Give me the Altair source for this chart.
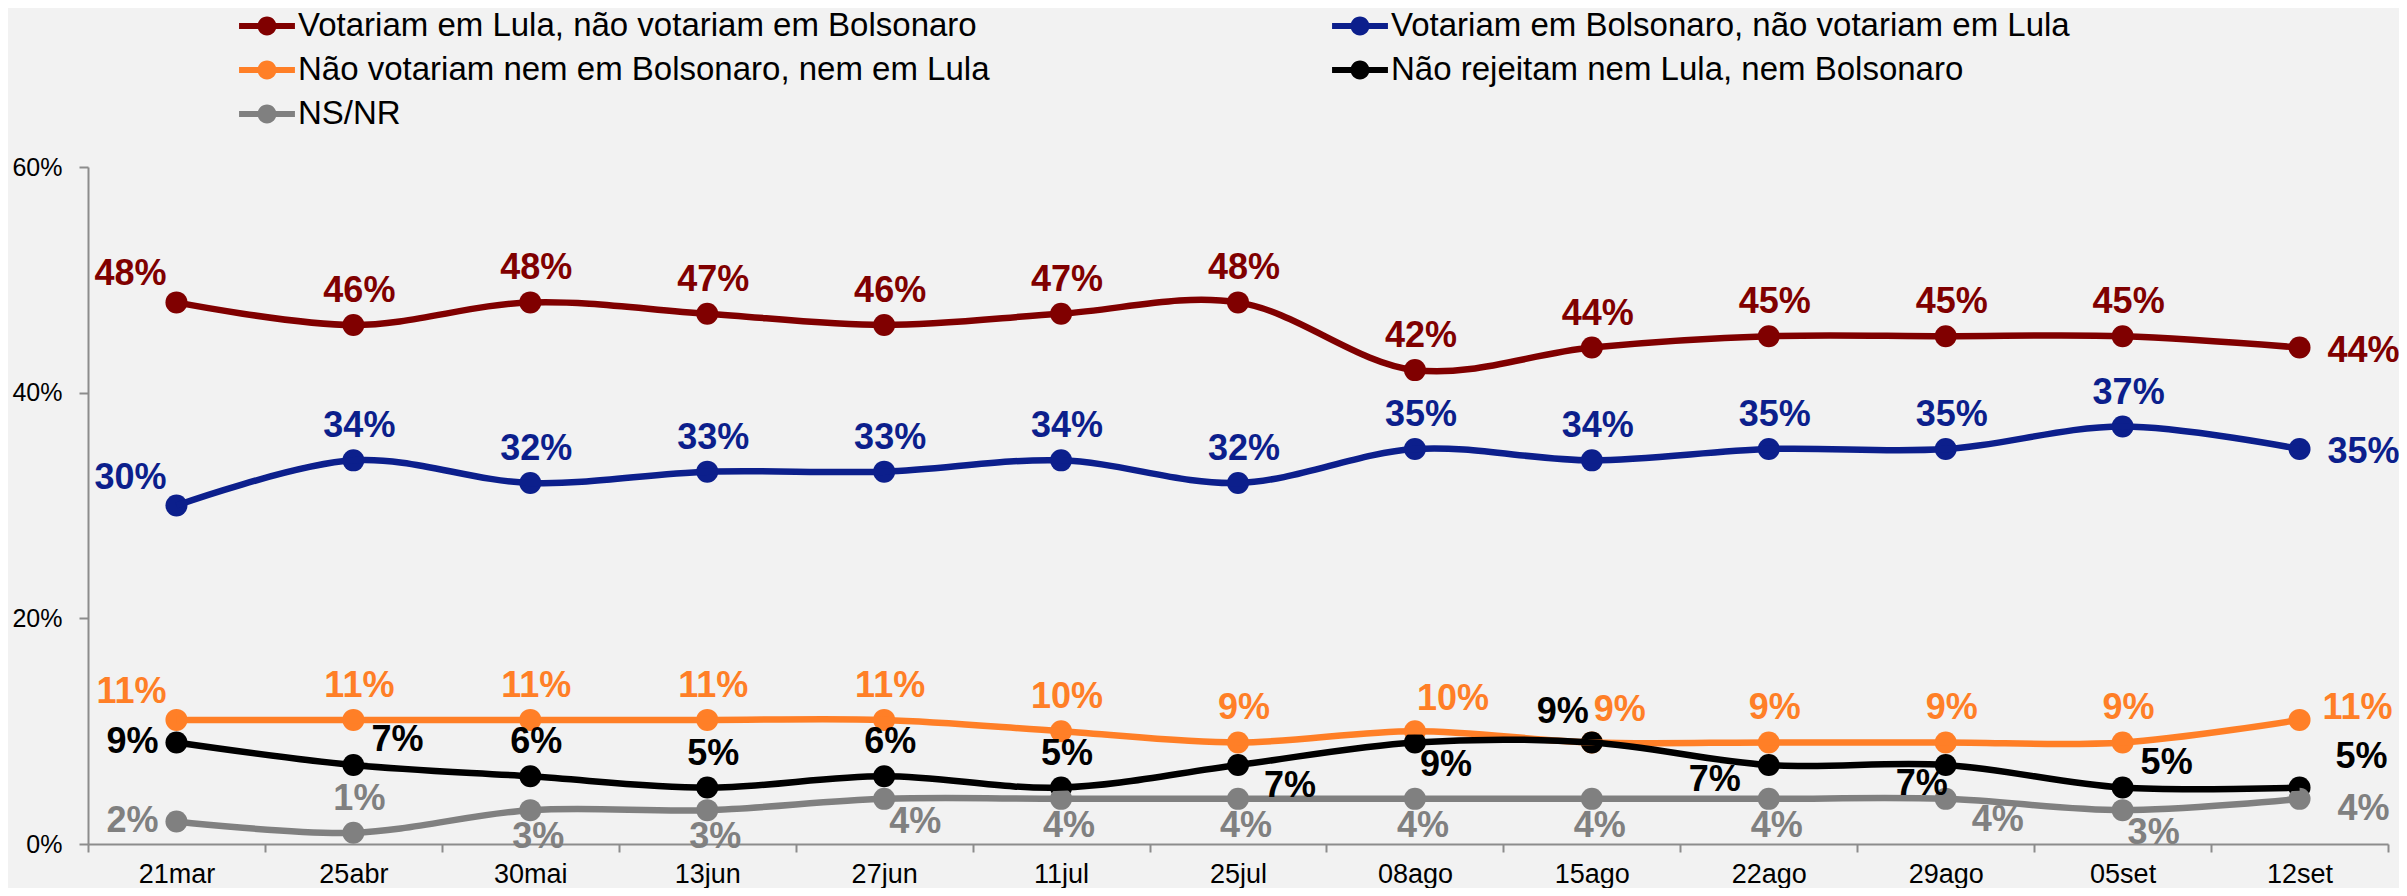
import altair as alt
import pandas as pd

# ---------------- data ----------------
dates = ["21mar", "25abr", "30mai", "13jun", "27jun", "11jul", "25jul",
         "08ago", "15ago", "22ago", "29ago", "05set", "12set"]

series_names = [
    "Votariam em Lula, não votariam em Bolsonaro",
    "Votariam em Bolsonaro, não votariam em Lula",
    "Não votariam nem em Bolsonaro, nem em Lula",
    "Não rejeitam nem Lula, nem Bolsonaro",
    "NS/NR",
]

lula_only = [48, 46, 48, 47, 46, 47, 48, 42, 44, 45, 45, 45, 44]
bolsonaro_only = [30, 34, 32, 33, 33, 34, 32, 35, 34, 35, 35, 37, 35]
nenhum = [11, 11, 11, 11, 11, 10, 9, 10, 9, 9, 9, 9, 11]
nao_rejeitam = [9, 7, 6, 5, 6, 5, 7, 9, 9, 7, 7, 5, 5]
ns_nr = [2, 1, 3, 3, 4, 4, 4, 4, 4, 4, 4, 3, 4]

series_values = [lula_only, bolsonaro_only, nenhum, nao_rejeitam, ns_nr]

# ---------------- styles ----------------
colors = ["#800000", "#0c1f8c", "#ff7f27", "#000000", "#808080"]
# legend fills its columns top-down: first column, then second column
legend_order = [0, 2, 4, 1, 3]

# label placement code for every point of each series
label_pos = [
    ["NW", "N", "N", "N", "N", "N", "N", "N", "N", "N", "N", "N", "E"],
    ["NW", "N", "N", "N", "N", "N", "N", "N", "N", "N", "N", "N", "E"],
    ["NW", "N", "N", "N", "N", "N", "N", "NNE", "NNE", "N", "N", "N", "ENE"],
    ["W", "NE", "N", "N", "N", "N", "SEE", "SE", "NWc", "SW", "SSW", "NE", "NEE"],
    ["W", "N", "S", "S", "SE", "S", "S", "S", "S", "S", "SEE", "SE", "ESE"],
]

# code -> (align, dx, dy)
placements = {
    "N": ("center", 6, -34),
    "NW": ("right", -10, -28),
    "NWc": ("right", -3, -30),
    "E": ("left", 28, 3),
    "ENE": ("left", 23, -12),
    "NE": ("left", 18, -25),
    "NNE": ("left", 2, -32),
    "NEE": ("left", 36, -31),
    "W": ("right", -18, 0),
    "S": ("center", 8, 27),
    "SE": ("left", 5, 23),
    "SEE": ("left", 26, 21),
    "SW": ("right", -28, 15),
    "SSW": ("right", 2, 19),
    "ESE": ("left", 38, 10),
}

rows = []
for s_idx, (name, vals) in enumerate(zip(series_names, series_values)):
    for d_idx, (d, v) in enumerate(zip(dates, vals)):
        rows.append({
            "date": d,
            "serie": name,
            "value": v,
            "lbl": f"{v}%",
            "pos": label_pos[s_idx][d_idx],
        })
df = pd.DataFrame(rows)

FONT = "Liberation Sans"

# legend symbol: a short thick line with a dot in the middle
legend_path = (
    "M-1.27,-0.136 L1.27,-0.136 L1.27,0.136 L-1.27,0.136 Z "
    "M0.43,0 C0.43,0.2375 0.2375,0.43 0,0.43 C-0.2375,0.43 -0.43,0.2375 -0.43,0 "
    "C-0.43,-0.2375 -0.2375,-0.43 0,-0.43 C0.2375,-0.43 0.43,-0.2375 0.43,0 Z"
)

x_enc = alt.X(
    "date:N", sort=dates,
    scale=alt.Scale(type="band", paddingInner=0, paddingOuter=0),
    axis=alt.Axis(title=None, tickBand="extent", labelAngle=0, tickSize=8,
                  labelPadding=9, labelFontSize=27),
)
y_enc = alt.Y(
    "value:Q",
    scale=alt.Scale(domain=[0, 60], nice=False, zero=True),
    axis=alt.Axis(title=None, values=[0, 20, 40, 60], grid=False,
                  labelExpr="datum.value + '%'", tickSize=9, labelPadding=17,
                  labelFontSize=25),
)
dom = [series_names[i] for i in legend_order]
rng = [colors[i] for i in legend_order]
color_scale = alt.Scale(domain=dom, range=rng)
color_nolegend = alt.Color("serie:N", scale=color_scale, legend=None)
color_legend = alt.Color(
    "serie:N", scale=color_scale,
    legend=alt.Legend(
        title=None, orient="none", legendX=157, legendY=-163,
        columns=2, columnPadding=342, rowPadding=5, padding=0,
        symbolType=legend_path, symbolSize=1936, symbolStrokeWidth=0,
        labelFont=FONT, labelFontSize=33, labelColor="#000000",
        labelLimit=1200, labelOffset=9,
    ),
)

base = alt.Chart(df)

lines = base.mark_line(interpolate="catmull-rom", strokeWidth=6.5).encode(
    x=x_enc, y=y_enc, color=color_nolegend
)
points = base.mark_point(filled=True, shape="circle", size=484, opacity=1,
                         strokeWidth=0).encode(x=x_enc, y=y_enc, color=color_legend)

texts = []
for code, (align, dx, dy) in placements.items():
    texts.append(
        base.transform_filter(alt.datum.pos == code).mark_text(
            align=align, baseline="middle", dx=dx, dy=dy,
            font=FONT, fontSize=36, fontWeight="bold",
        ).encode(x=x_enc, y=y_enc, color=color_nolegend, text="lbl:N")
    )

chart = alt.layer(points, lines, *texts).properties(
    width=2300, height=677,
    autosize="none",
    padding={"left": 80, "top": 159, "right": 11, "bottom": 44},
    background="#f2f2f2",
).configure_view(stroke=None).configure_axis(
    labelFont=FONT, labelColor="#000000",
    domainColor="#8c8c8c", tickColor="#8c8c8c",
    domainWidth=2, tickWidth=2,
)

chart.save("out.html", embed_options={"renderer": "svg", "actions": False})
